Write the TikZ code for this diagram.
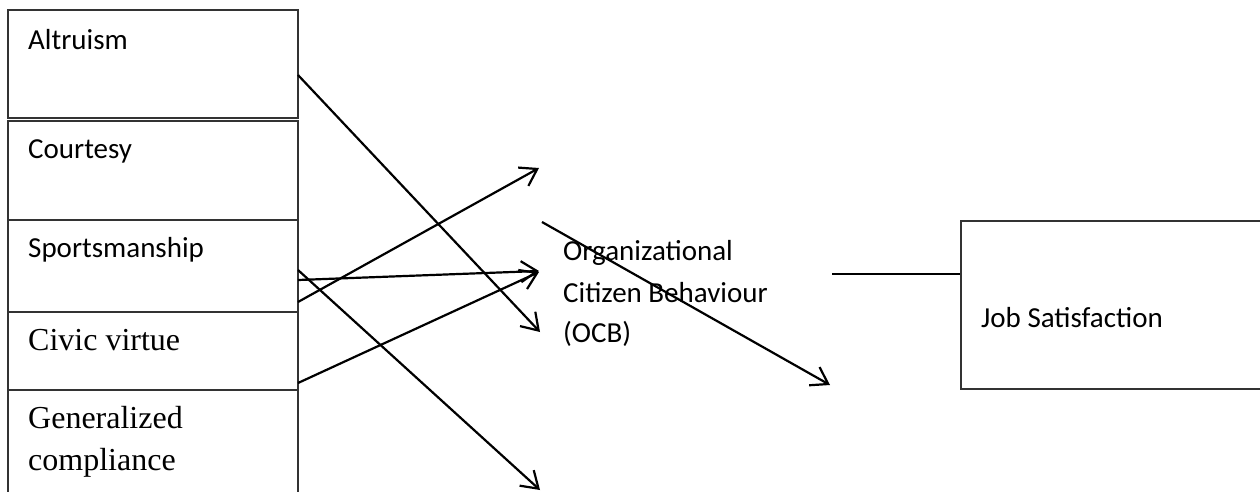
\documentclass[tikz,border=0pt]{standalone}
\usepackage{fontspec}
\setmainfont{Carlito}
\newfontfamily\timesf{Liberation Serif}
\usetikzlibrary{arrows.meta}
\begin{document}
\begin{tikzpicture}[x=1pt,y=-1pt,
  boxst/.style={draw=black!80,line width=1.7pt,rectangle,inner sep=0pt},
  cal/.style={anchor=base west,inner sep=0pt,font=\fontsize{29}{41}\selectfont},
  tms/.style={anchor=base west,inner sep=0pt,font=\timesf\fontsize{32}{42}\selectfont},
  arr/.style={line width=2.2pt,-{Straight Barb[length=16pt,width=21pt]}},
  link/.style={line width=1.2pt}]
\useasboundingbox (0,0) rectangle (1260,491);
\begin{scope}
\clip (0,0) rectangle (1260,491);
% boxes
\node[boxst,minimum width=290pt,minimum height=108pt] (alt) at (153,64) {};
\node[boxst,minimum width=290pt,minimum height=99pt] (cou) at (153,170.5) {};
\node[boxst,minimum width=290pt,minimum height=92pt] (spo) at (153,266) {};
\node[boxst,minimum width=290pt,minimum height=78pt] (civ) at (153,351) {};
\node[boxst,minimum width=290pt,minimum height=130pt] (gen) at (153,455) {};
\node[boxst,minimum width=330pt,minimum height=168pt] (job) at (1126,305) {};
\end{scope}
% texts
\node[cal] (talt) at (28,49) {Altruism};
\node[cal] (tcou) at (28,158) {Courtesy};
\node[cal] (tspo) at (28,257) {Sportsmanship};
\node[tms] (tciv) at (28,350) {Civic virtue};
\node[tms] (tgen1) at (28,428) {Generalized};
\node[tms] (tgen2) at (28,470) {compliance};
\node[cal] (tocb1) at (563,260) {Organizational};
\node[cal] (tocb2) at (563,302) {Citizen Behaviour};
\node[cal] (tocb3) at (563,342) {(OCB)};
\node[cal] (tjob) at (981,327) {Job Satisfaction};
% connector points
\coordinate (a1) at (298,75);
\coordinate (a1e) at (540,332);
\coordinate (s1) at (298,270);
\coordinate (s1e) at (540,490);
\coordinate (s2) at (298,280);
\coordinate (s2e) at (539,271);
\coordinate (s3) at (298,302);
\coordinate (s3e) at (539,168);
\coordinate (c1) at (298,383);
\coordinate (c1e) at (539,272);
\coordinate (o1) at (542,222);
\coordinate (o1e) at (830,385);
\coordinate (l1) at (832,274);
\coordinate (l1e) at (job.west |- l1);
% arrows
\draw[arr] (a1) -- (a1e);
\draw[arr] (s1) -- (s1e);
\draw[arr] (s2) -- (s2e);
\draw[arr] (s3) -- (s3e);
\draw[arr] (c1) -- (c1e);
\draw[arr] (o1) -- (o1e);
\draw[link] (l1) -- (l1e);
\end{tikzpicture}
\end{document}
